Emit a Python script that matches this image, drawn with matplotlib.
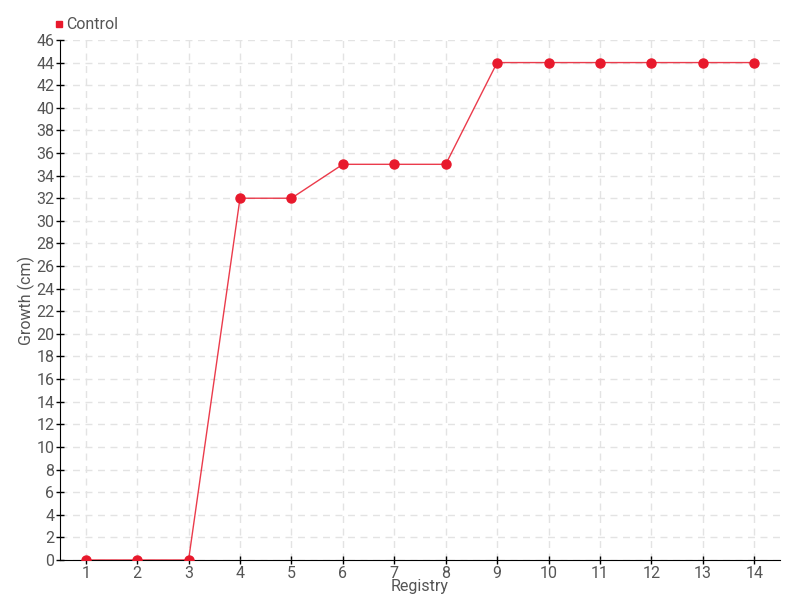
import matplotlib
matplotlib.use("Agg")
import matplotlib.pyplot as plt
from matplotlib.lines import Line2D

plt.rcParams['font.family'] = ['Roboto', 'DejaVu Sans']
plt.rcParams['font.weight'] = 'normal'

registry = [1, 2, 3, 4, 5, 6, 7, 8, 9, 10, 11, 12, 13, 14]
growth = [0, 0, 0, 32, 32, 35, 35, 35, 44, 44, 44, 44, 44, 44]
series_name = "Control"
yticks = list(range(0, 47, 2))

color = '#e8192c'
text_color = '#555555'

fig = plt.figure(figsize=(8, 6), dpi=100)
ax = fig.add_axes([0.075, 0.0667, 0.9, 0.8667])

ax.plot(registry, growth, color=color, linewidth=1, alpha=0.85, zorder=3)
ax.plot(registry, growth, linestyle='none', marker='o', markersize=6.5,
        color=color, zorder=4)

ax.set_xlim(0.5, 14.5)
ax.set_ylim(0, 46)
ax.set_xticks(registry)
ax.set_yticks(yticks)
ax.tick_params(axis='both', direction='inout', length=6, width=1,
               labelsize=11.5, colors='black')
ax.tick_params(axis='x', pad=1)
ax.tick_params(axis='y', pad=1)
for lbl in ax.get_xticklabels() + ax.get_yticklabels():
    lbl.set_color(text_color)

ax.grid(True, color='#e3e3e3', linestyle=(0, (5, 4)), linewidth=1)
ax.set_axisbelow(True)
for s in ['top', 'right']:
    ax.spines[s].set_visible(False)

ax.set_xlabel('Registry', fontsize=11.5, color=text_color, labelpad=-1)
ax.set_ylabel('Growth (cm)', fontsize=11.5, color=text_color, labelpad=1)

handle = Line2D([], [], linestyle='none', marker='s', markersize=5, color=color)
fig.legend([handle], [series_name], loc='upper left', bbox_to_anchor=(0.048, 0.995),
           frameon=False, fontsize=11.5, handletextpad=0.05, handlelength=0.8,
           labelcolor=text_color)

fig.savefig('out.png', dpi=100)
